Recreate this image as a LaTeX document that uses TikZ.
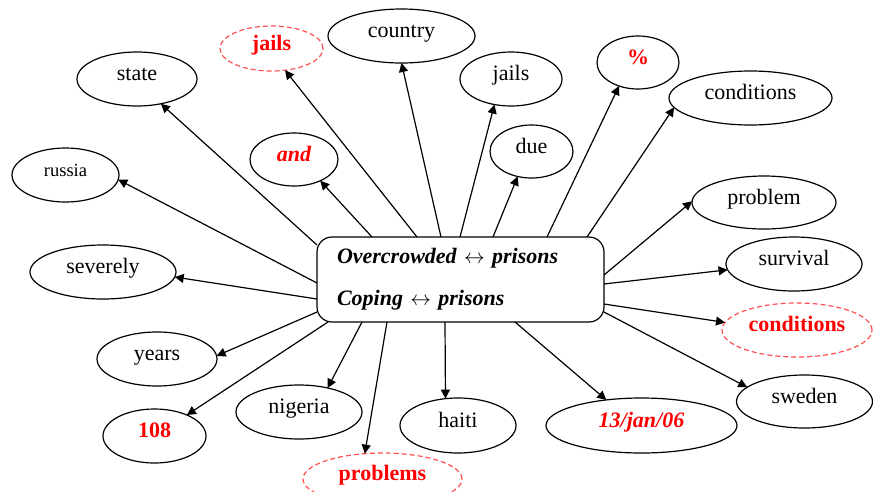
\documentclass[tikz,border=0pt]{standalone}
\usepackage{fontspec}
\setmainfont{Liberation Serif}
\usetikzlibrary{arrows.meta,shapes.geometric}
\definecolor{hired}{RGB}{255,0,0}
\definecolor{dashred}{RGB}{255,80,80}
\begin{document}
\begin{tikzpicture}[x=1pt,y=-1pt,
  el/.style={ellipse,draw=black,line width=1.2pt,inner sep=0pt,outer sep=0pt,
    font=\fontsize{22}{26}\selectfont,text height=0.68em,text depth=0.33em},
  sz/.style 2 args={minimum width=#1pt,minimum height=#2pt},
  hl/.style={el,draw=dashred,dash pattern=on 5pt off 3pt,text=hired,font=\fontsize{22}{26}\selectfont\bfseries},
  redb/.style={text=hired,font=\fontsize{22}{26}\selectfont\bfseries},
  redbi/.style={text=hired,font=\fontsize{22}{26}\selectfont\bfseries\itshape},
  arr/.style={-{Triangle[length=9pt,width=9pt]},line width=1.2pt},
  mainbox/.style={draw=black,line width=1.2pt,rounded corners=15pt,outer sep=0pt,
    minimum height=85pt,text width=247pt,inner xsep=20pt,align=left,
    font=\fontsize{22}{42}\selectfont\bfseries\itshape}
]
\useasboundingbox (0,0) rectangle (873,491);

\node[mainbox] (box) at (460.5,279.5) {Overcrowded $\leftrightarrow$ prisons\\Coping $\leftrightarrow$ prisons};

\node[el,sz={120}{54}] (state) at (137,79) {state};
\node[el,sz={107}{54},font=\fontsize{18.5}{22}\selectfont] (russia) at (65.5,175) {russia};
\node[el,sz={146}{54}] (severely) at (103,272) {severely};
\node[el,sz={120}{54}] (years) at (157,359) {years};
\node[el,sz={103}{54},redb] (n108) at (154.5,436) {108};
\node[el,sz={126}{54}] (nigeria) at (299,412) {nigeria};
\node[hl,sz={159}{52}] (problems) at (382.5,479) {problems};
\node[el,sz={116}{55}] (haiti) at (458,425.5) {haiti};
\node[el,sz={191}{55},redbi] (jan) at (641.5,425.5) {13/jan/06};
\node[el,sz={136}{53}] (sweden) at (804.5,401.5) {sweden};
\node[hl,sz={150}{54}] (condB) at (797,330) {conditions};
\node[el,sz={136}{54}] (survival) at (794,264) {survival};
\node[el,sz={144}{53}] (problem) at (764,202.5) {problem};
\node[el,sz={163}{54}] (condA) at (750.5,98) {conditions};
\node[el,sz={82}{53},redb] (pct) at (638,62.5) {\%};
\node[el,sz={83}{53}] (due) at (531.5,151.5) {due};
\node[el,sz={102}{54}] (jailsB) at (511,79) {jails};
\node[el,sz={147}{54}] (country) at (401.5,36) {country};
\node[hl,sz={103}{45}] (jailsA) at (271.5,48.5) {jails};
\node[el,sz={88}{53},redbi] (and) at (294,159.5) {and};

\draw[arr] ([yshift=-8pt]box.north west) -- (state.-46);
\draw[arr] ([yshift=-46pt]box.north west) -- (russia.-5);
\draw[arr] ([yshift=-62pt]box.north west) -- (severely.-4);
\draw[arr] ([yshift=-75pt]box.north west) -- (years.3);
\draw[arr] ([xshift=11pt]box.south west) -- (n108.33);
\draw[arr] ([xshift=45pt]box.south west) -- (nigeria.40);
\draw[arr] ([xshift=70pt]box.south west) -- (problems.125);
\draw[arr] ([xshift=128pt]box.south west) -- (haiti.115);
\draw[arr] ([xshift=198pt]box.south west) -- (jan.144);
\draw[arr] ([yshift=-75pt]box.north east) -- (sweden.166);
\draw[arr] ([yshift=-67pt]box.north east) -- (condB.174);
\draw[arr] ([yshift=-47pt]box.north east) -- (survival.185);
\draw[arr] ([yshift=-38pt]box.north east) -- (problem.179);
\draw[arr] ([xshift=270pt]box.north west) -- (condA.187);
\draw[arr] ([xshift=230pt]box.north west) -- (pct.231);
\draw[arr] ([xshift=176pt]box.north west) -- (due.241);
\draw[arr] ([xshift=143pt]box.north west) -- (jailsB.237);
\draw[arr] ([xshift=124pt]box.north west) -- (country.270);
\draw[arr] ([xshift=100pt]box.north west) -- (jailsA.302);
\draw[arr] ([xshift=55pt]box.north west) -- (and.321);
\end{tikzpicture}
\end{document}
